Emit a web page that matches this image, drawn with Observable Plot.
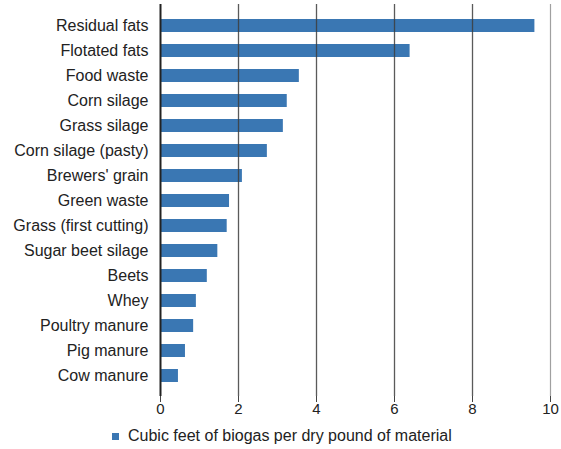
<!DOCTYPE html>
<html>
<head>
<meta charset="utf-8">
<script src="https://cdn.jsdelivr.net/npm/d3@7"></script>
<script src="https://cdn.jsdelivr.net/npm/@observablehq/plot@0.6"></script>
<style>
  html, body { margin: 0; padding: 0; background: #fff; }
  #chart { width: 561px; }
  .legend { font-family: "Liberation Sans", Arial, sans-serif; font-size: 16px; color: #222; height: 29px; line-height: 16px; padding-top: 8px; box-sizing: border-box; padding-left: 112px; }
  .legend .sw { display: inline-block; width: 7px; height: 7px; background: #3a77b3; margin-right: 9px; vertical-align: 1px; }
</style>
</head>
<body>
<div id="chart"></div>
<script>
const categories = ["Residual fats", "Flotated fats", "Food waste", "Corn silage", "Grass silage", "Corn silage (pasty)", "Brewers' grain", "Green waste", "Grass (first cutting)", "Sugar beet silage", "Beets", "Whey", "Poultry manure", "Pig manure", "Cow manure"];
const values = [9.6, 6.4, 3.56, 3.25, 3.15, 2.74, 2.1, 1.77, 1.71, 1.47, 1.2, 0.92, 0.85, 0.64, 0.46];
const xTicks = [0, 2, 4, 6, 8, 10];
const legendLabel = "Cubic feet of biogas per dry pound of material";

const data = categories.map((c, i) => ({category: c, value: values[i]}));

const plot = Plot.plot({
  width: 561,
  height: 420,
  marginLeft: 160,
  marginRight: 11,
  marginTop: 4,
  marginBottom: 24,
  style: {fontFamily: "'Liberation Sans', Arial, sans-serif", fontSize: "15px", color: "#222", background: "#fff"},
  x: {domain: [0, 10], ticks: xTicks, label: null},
  y: {domain: categories, padding: 0.48, paddingOuter: 0.4, label: null},
  marks: [
    Plot.barX(data, {x: "value", y: "category", fill: "#3a77b3"}),
    Plot.gridX(xTicks.slice(1, -1), {stroke: "#3d3d3d", strokeOpacity: 0.85, strokeWidth: 1.3}),
    Plot.gridX(xTicks.slice(-1), {stroke: "#888", strokeOpacity: 0.8, strokeWidth: 1.2}),
    Plot.ruleX([0], {stroke: "#222", strokeWidth: 2}),
    Plot.axisX(xTicks, {tickSize: 6, tickPadding: 1, fontSize: 15, stroke: "#444", label: null}),
    Plot.axisY({tickSize: 0, tickPadding: 12, fontSize: 16, label: null})
  ]
});
document.getElementById("chart").appendChild(plot);
const lg = document.createElement("div");
lg.className = "legend";
lg.innerHTML = '<span class="sw"></span>' + legendLabel;
document.getElementById("chart").appendChild(lg);
</script>
</body>
</html>
